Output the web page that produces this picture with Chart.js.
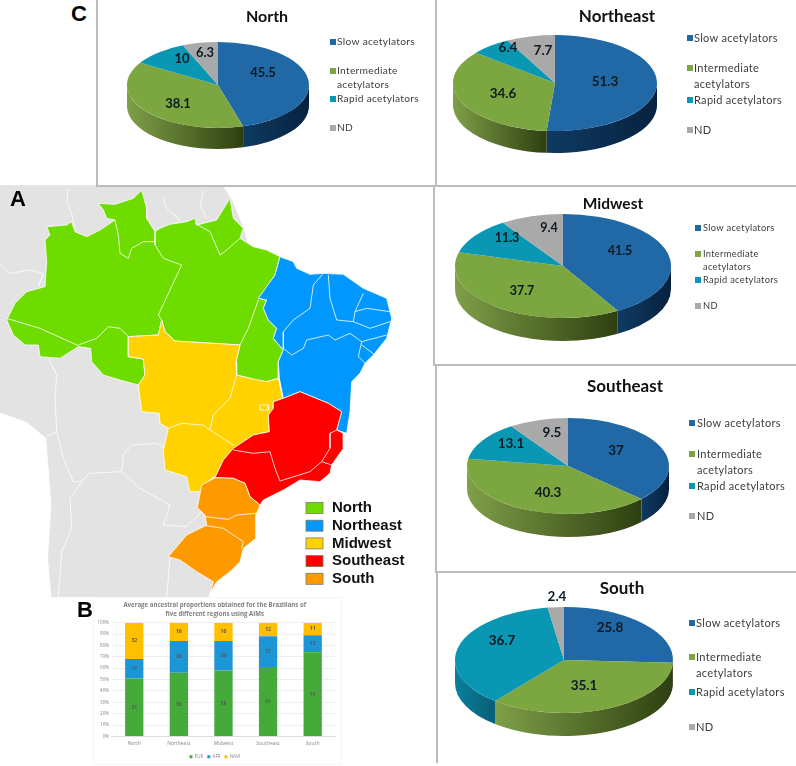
<!DOCTYPE html>
<html>
<head>
<meta charset="utf-8">
<title>Acetylator status by Brazilian region</title>
<script src="https://cdn.jsdelivr.net/npm/chart.js@4/dist/chart.umd.min.js"></script>
<style>
  html, body { margin: 0; padding: 0; background: #fff; }
  #page { position: relative; width: 796px; height: 766px; overflow: hidden; }
  canvas { position: absolute; }
  .pie { filter: blur(0.3px); }
  .rule { position: absolute; background: #bcbcbc; }
  .tag { position: absolute; font: bold 22px "Liberation Sans", Arial, sans-serif; color: #000; line-height: 1; }
  #barFrame { position: absolute; left: 93px; top: 597px; width: 247px; height: 166px; border: 1px solid #f6f6f6; }
</style>
</head>
<body>
<div id="page">
  <canvas id="map" width="430" height="415" style="left:0;top:185px"></canvas>
  <div id="barFrame"></div>
  <canvas id="bars" width="252" height="175" style="left:91px;top:596px;filter:blur(0.35px)"></canvas>
  <canvas class="pie" id="pieNorth" width="336" height="184" style="left:99px;top:0"></canvas>
  <canvas class="pie" id="pieNortheast" width="358" height="183" style="left:438px;top:0"></canvas>
  <canvas class="pie" id="pieMidwest" width="356" height="177" style="left:435px;top:186px"></canvas>
  <canvas class="pie" id="pieSoutheast" width="342" height="204" style="left:454px;top:367px"></canvas>
  <canvas class="pie" id="pieSouth" width="348" height="192" style="left:448px;top:574px"></canvas>

  <div class="rule" style="left:96px;top:0;width:2px;height:185px"></div>
  <div class="rule" style="left:96px;top:185px;width:700px;height:2px"></div>
  <div class="rule" style="left:435px;top:0;width:2px;height:185px"></div>
  <div class="rule" style="left:433px;top:185px;width:2px;height:180px"></div>
  <div class="rule" style="left:433px;top:364px;width:363px;height:2px"></div>
  <div class="rule" style="left:435px;top:366px;width:2px;height:206px"></div>
  <div class="rule" style="left:435px;top:571px;width:361px;height:2px"></div>
  <div class="rule" style="left:436px;top:573px;width:2px;height:190px"></div>

  <div class="tag" style="left:71px;top:3px">C</div>
  <div class="tag" style="left:10px;top:188px">A</div>
  <div class="tag" style="left:77px;top:599px">B</div>
</div>

<script>
// pie values
const pieCategories = ['Slow acetylators', 'Intermediate acetylators', 'Rapid acetylators', 'ND'];
const northValues = [45.5, 38.1, 10, 6.3];
const northeastValues = [51.3, 34.6, 6.4, 7.7];
const midwestValues = [41.5, 37.7, 11.3, 9.4];
const southeastValues = [37, 40.3, 13.1, 9.5];
const southValues = [25.8, 35.1, 36.7, 2.4];

// stacked bars
const barCategories = ['North', 'Northeast', 'Midwest', 'Southeast', 'South'];
const eurValues = [51, 56, 58, 61, 74];
const afrValues = [17, 28, 26, 27, 15];
const namValues = [32, 16, 16, 12, 11];

// map outlines (x, y pairs)
const mapLand = [0,0, 670,5, 695,45, 730,130, 800,400, 800,800, 640,1195, 625,1235, 155,1235, 145,1120, 155,960, 140,760, 80,710, 0,682];
const mapNorth = [295,55, 345,58, 400,40, 425,15, 440,70, 440,100, 465,140, 480,130, 510,118, 560,110, 585,100, 590,120, 650,105, 690,40, 700,100, 730,130, 720,160, 760,185, 800,195, 840,215, 825,270, 790,320, 775,340, 800,345, 790,370, 805,405, 830,430, 820,460, 850,495, 835,530, 835,580, 800,590, 760,585, 750,580, 710,570, 708,530, 720,480, 525,468, 495,440, 485,405, 475,450, 385,455, 385,515, 430,522, 435,570, 415,600, 360,585, 310,570, 275,530, 272,490, 235,485, 180,520, 120,515, 115,480, 75,480, 40,450, 20,405, 45,355, 80,320, 135,305, 140,230, 135,165, 150,150, 140,125, 200,120, 215,110, 225,140, 260,155, 300,135, 330,115, 345,105, 320,100, 310,75, 295,55];
const mapNortheast = [840,215, 880,230, 890,250, 930,268, 970,265, 1030,268, 1090,310, 1160,340, 1175,400, 1160,460, 1120,510, 1095,535, 1080,565, 1055,590, 1050,680, 1040,745, 1010,735, 1025,680, 985,655, 900,620, 850,640, 838,580, 835,530, 850,495, 820,460, 830,430, 805,405, 790,370, 800,345, 775,340, 825,270, 840,215];
const mapMidwest = [385,455, 475,450, 485,405, 495,440, 525,468, 720,480, 708,530, 710,570, 750,580, 800,590, 835,580, 848,640, 820,650, 820,670, 805,690, 808,740, 760,750, 700,790, 670,825, 650,870, 610,900, 600,920, 570,920, 560,875, 495,855, 490,795, 505,730, 480,715, 478,685, 425,680, 415,600, 435,570, 430,522, 385,515, 385,455];
const mapSoutheast = [850,640, 900,620, 985,655, 1025,680, 1010,735, 1030,745, 1030,790, 995,840, 990,865, 960,890, 900,885, 850,915, 790,945, 780,960, 750,935, 735,895, 700,880, 645,878, 670,825, 700,790, 760,750, 808,740, 805,690, 820,670, 820,650, 850,640];
const mapSouth = [645,878, 700,880, 735,895, 750,935, 780,960, 768,990, 768,1060, 730,1090, 720,1130, 690,1160, 650,1190, 630,1225, 640,1190, 590,1160, 540,1125, 505,1115, 560,1050, 620,1020, 615,990, 592,968, 605,900, 645,878];
const stateBorders = [
  [20,400, 120,430, 235,482],
  [235,480, 290,460, 325,425, 360,430, 385,455],
  [345,105, 355,150, 360,205, 385,220, 395,190, 430,170, 465,170],
  [465,140, 465,180, 490,220, 545,240, 475,390, 485,405],
  [585,115, 630,140, 660,210, 680,195, 720,160],
  [775,345, 745,430, 720,480],
  [710,570, 690,640, 640,690, 630,735, 610,720, 545,715, 505,730],
  [630,735, 700,780],
  [780,660, 805,660, 805,675, 780,675, 780,660],
  [970,265, 940,300, 930,370, 880,405, 850,440, 850,490],
  [985,270, 990,340, 1010,405],
  [1090,325, 1065,380, 1060,410],
  [1010,405, 1060,410, 1110,430, 1170,410],
  [1065,380, 1100,370, 1170,380],
  [850,490, 875,510, 910,490, 920,465, 985,450, 1005,465, 1050,445, 1085,470, 1160,450],
  [1085,470, 1075,515, 1095,535],
  [1085,480, 1125,510],
  [1010,735, 990,745, 990,790, 965,830, 930,860, 840,888, 825,850, 810,800, 760,805, 700,795],
  [965,830, 995,840],
  [615,995, 685,1003, 710,990, 768,985],
  [618,1022, 670,1030, 730,1070, 725,1090]
];
const countryBorders = [
  [205,10, 200,50, 215,85, 225,130],
  [490,40, 500,70, 530,95, 540,110],
  [610,20, 600,60, 620,100],
  [0,235, 30,265, 90,255, 130,265, 115,305],
  [145,520, 170,570, 165,640, 170,740, 140,755],
  [170,740, 190,820, 220,890, 245,890, 265,865, 365,860, 370,810, 395,780, 470,775, 495,790],
  [365,860, 420,910, 510,960, 490,1020, 560,1025, 610,975],
  [245,890, 210,940, 215,1030, 185,1100, 180,1170, 175,1235],
  [510,1115, 500,1235]
];
const mapLegendLabels = ['North', 'Northeast', 'Midwest', 'Southeast', 'South'];
const mapColors = ['#6fdc00', '#0098ff', '#ffd200', '#ff0000', '#ff9900'];

const pieColors = ['#2169a6', '#7ca640', '#0a97b3', '#a9a9a9'];
// left and right colour of each slice's side wall
const sideColors = [['#0f3a62', '#06223f'], ['#7f9f48', '#2e3f10'], ['#0a7f9c', '#075f78'], ['#777777', '#666666']];

// geometry of each pie in page pixels
const pieLayouts = {
  north: { left: 99, top: 0, cx: 218, cy: 85, a: 91, b: 43, depth: 21, titleY: 17, titleSize: 16, font: 10.2,
    swatchX: 330, textX: 337, legendY: [42, 71, 85, 99, 128],
    labelX: [263, 178, 182, 205], labelY: [73, 104, 59, 53], labelSize: 13 },
  northeast: { left: 438, top: 0, cx: 555, cy: 83, a: 102, b: 48, depth: 22, titleY: 17, titleSize: 17, font: 11,
    swatchX: 687, textX: 694, legendY: [38, 68, 84, 100, 130],
    labelX: [605, 503, 508, 543], labelY: [82, 94, 48, 51], labelSize: 13.5 },
  midwest: { left: 435, top: 186, cx: 563, cy: 266, a: 108, b: 52, depth: 23, titleY: 204, titleSize: 15.5, font: 9.3,
    swatchX: 695, textX: 703, legendY: [228, 254, 267, 280, 306],
    labelX: [620, 522, 507, 549], labelY: [251, 291, 238, 228], labelSize: 12.5 },
  southeast: { left: 454, top: 367, cx: 568, cy: 466, a: 101, b: 48, depth: 23, titleY: 387, titleSize: 17, font: 11,
    swatchX: 689, textX: 697, legendY: [423, 454, 470, 486, 516],
    labelX: [616, 548, 511, 552], labelY: [451, 493, 444, 433], labelSize: 13.5 },
  south: { left: 448, top: 574, cx: 564, cy: 660, a: 109, b: 53, depth: 23, titleY: 589, titleSize: 17, font: 11.1,
    swatchX: 689, textX: 696, legendY: [623, 657, 673, 692, 727],
    labelX: [610, 584, 502, 557], labelY: [628, 686, 641, 597], labelSize: 13.5 }
};

// squashes the library's flat pie into a disc and adds the side wall under it
const discPlugin = {
  id: 'disc',
  beforeDatasetsDraw(chart, args, opts) {
    const lay = opts.layout;
    const ctx = chart.ctx;
    const arcs = chart.getDatasetMeta(0).data;
    const cx = lay.cx - lay.left, cy = lay.cy - lay.top;
    arcs.forEach((arc, i) => {
      const s = Math.max(arc.startAngle, 0), e = Math.min(arc.endAngle, Math.PI);
      if (e <= s) return;
      const x1 = cx + lay.a * Math.cos(e), x2 = cx + lay.a * Math.cos(s);
      const grad = ctx.createLinearGradient(Math.min(x1, x2), 0, Math.max(x1, x2), 0);
      grad.addColorStop(0, sideColors[i][0]);
      grad.addColorStop(1, sideColors[i][1]);
      ctx.beginPath();
      ctx.ellipse(cx, cy, lay.a, lay.b, 0, s, e);
      ctx.ellipse(cx, cy + lay.depth, lay.a, lay.b, 0, e, s, true);
      ctx.closePath();
      ctx.fillStyle = grad;
      ctx.fill();
    });
    ctx.save();
    ctx.translate(cx, cy);
    ctx.scale(1, lay.b / lay.a);
    ctx.translate(-arcs[0].x, -arcs[0].y);
  },
  afterDatasetsDraw(chart, args, opts) {
    const lay = opts.layout;
    const ctx = chart.ctx;
    ctx.restore();
    ctx.textBaseline = 'middle';
    // slice values
    ctx.textAlign = 'center';
    ctx.fillStyle = '#0d1a22';
    ctx.font = 'bold ' + lay.labelSize + 'px Lato, sans-serif';
    chart.data.datasets[0].data.forEach((v, i) => {
      ctx.fillText(String(v), lay.labelX[i] - lay.left, lay.labelY[i] - lay.top);
    });
    // legend, the long label takes two lines
    ctx.textAlign = 'left';
    ctx.font = lay.font + 'px Lato, sans-serif';
    ctx.letterSpacing = '0.3px';
    const lines = [pieCategories[0], 'Intermediate', 'acetylators', pieCategories[2], pieCategories[3]];
    const swatch = [0, 1, null, 2, 3];
    lines.forEach((text, i) => {
      const y = lay.legendY[i] - lay.top;
      ctx.fillStyle = '#3d3d3d';
      ctx.fillText(text, lay.textX - lay.left, y);
      if (swatch[i] !== null) {
        ctx.fillStyle = pieColors[swatch[i]];
        ctx.fillRect(lay.swatchX - lay.left, y - 3, 6, 6);
      }
    });
    ctx.letterSpacing = '0px';
  }
};

function makePie(id, title, values, lay) {
  return new Chart(document.getElementById(id), {
    type: 'pie',
    data: {
      labels: pieCategories,
      datasets: [{ data: values, backgroundColor: pieColors, borderWidth: 0, radius: lay.a, clip: false }]
    },
    options: {
      responsive: false,
      animation: false,
      plugins: {
        legend: { display: false },
        tooltip: { enabled: false },
        title: {
          display: true,
          text: title,
          color: '#111',
          font: { family: 'Lato, sans-serif', size: lay.titleSize, weight: 'bold' },
          padding: { top: lay.titleY - lay.top - lay.titleSize * 0.6, bottom: 0 }
        },
        disc: { layout: lay }
      }
    },
    plugins: [discPlugin]
  });
}

makePie('pieNorth', 'North', northValues, pieLayouts.north);
makePie('pieNortheast', 'Northeast', northeastValues, pieLayouts.northeast);
makePie('pieMidwest', 'Midwest', midwestValues, pieLayouts.midwest);
makePie('pieSoutheast', 'Southeast', southeastValues, pieLayouts.southeast);
makePie('pieSouth', 'South', southValues, pieLayouts.south);

// map
const toPoints = (flat) => {
  const pts = [];
  for (let i = 0; i < flat.length; i += 2) pts.push({ x: flat[i], y: flat[i + 1] });
  return pts;
};
const areaSet = (flat, color, edge) => ({
  data: toPoints(flat), showLine: true, fill: 'shape', backgroundColor: color,
  borderColor: edge, borderWidth: 0.8, pointRadius: 0, tension: 0
});
const lineSet = (flat) => ({
  data: toPoints(flat), showLine: true, fill: false, borderColor: '#ffffff',
  borderWidth: 0.8, pointRadius: 0, tension: 0
});

const mapLegendPlugin = {
  id: 'mapLegend',
  afterDraw(chart) {
    const ctx = chart.ctx;
    ctx.font = 'bold 15px "Liberation Sans", Arial, sans-serif';
    ctx.textBaseline = 'middle';
    ctx.textAlign = 'left';
    mapLegendLabels.forEach((label, i) => {
      const y = 323 + i * 17.7;
      ctx.fillStyle = mapColors[i];
      ctx.fillRect(306, y - 5.5, 17, 11);
      ctx.strokeStyle = '#7a7a5a';
      ctx.lineWidth = 0.8;
      ctx.strokeRect(306, y - 5.5, 17, 11);
      ctx.fillStyle = '#111';
      ctx.fillText(label, 332, y);
    });
  }
};

// first dataset ends up on top
new Chart(document.getElementById('map'), {
  type: 'scatter',
  data: {
    datasets: [
      ...stateBorders.map(lineSet),
      areaSet(mapSouth, mapColors[4], '#ffffff'),
      areaSet(mapSoutheast, mapColors[3], '#ffffff'),
      areaSet(mapMidwest, mapColors[2], '#ffffff'),
      areaSet(mapNortheast, mapColors[1], '#ffffff'),
      areaSet(mapNorth, mapColors[0], '#ffffff'),
      ...countryBorders.map(lineSet),
      areaSet(mapLand, '#e3e3e3', '#e3e3e3')
    ]
  },
  options: {
    responsive: false,
    animation: false,
    layout: { padding: 0 },
    scales: {
      x: { type: 'linear', min: 0, max: 1290, display: false },
      y: { type: 'linear', min: 0, max: 1245, reverse: true, display: false }
    },
    plugins: { legend: { display: false }, tooltip: { enabled: false } }
  },
  plugins: [mapLegendPlugin]
});

// stacked bars, values printed in the middle of each segment
const barLabelPlugin = {
  id: 'barLabels',
  afterDatasetsDraw(chart) {
    const ctx = chart.ctx;
    ctx.font = 'bold 5px "Open Sans", sans-serif';
    ctx.fillStyle = '#5a5a5a';
    ctx.textAlign = 'center';
    ctx.textBaseline = 'middle';
    chart.data.datasets.forEach((ds, d) => {
      chart.getDatasetMeta(d).data.forEach((bar, i) => {
        ctx.fillText(String(ds.data[i]), bar.x, (bar.y + bar.base) / 2);
      });
    });
  }
};

new Chart(document.getElementById('bars'), {
  type: 'bar',
  data: {
    labels: barCategories,
    datasets: [
      { label: 'EUR', data: eurValues, backgroundColor: '#44ab3a' },
      { label: 'AFR', data: afrValues, backgroundColor: '#1d96d6' },
      { label: 'NAM', data: namValues, backgroundColor: '#ffc000' }
    ]
  },
  options: {
    responsive: false,
    animation: false,
    layout: { padding: { left: 3.5, right: 8, top: 2, bottom: 2 } },
    datasets: { bar: { barPercentage: 0.41, categoryPercentage: 1 } },
    scales: {
      x: {
        stacked: true,
        grid: { display: false, tickLength: 0 },
        border: { color: '#dddddd' },
        ticks: { color: '#888888', font: { size: 5, family: '"Open Sans", sans-serif' }, padding: 4 }
      },
      y: {
        stacked: true,
        min: 0,
        max: 100,
        grid: { color: '#eeeeee', tickLength: 0 },
        border: { display: false },
        ticks: {
          stepSize: 10,
          color: '#888888',
          padding: 3,
          font: { size: 4.5, family: '"Open Sans", sans-serif' },
          callback: (v) => v + '%'
        }
      }
    },
    plugins: {
      tooltip: { enabled: false },
      title: {
        display: true,
        text: ['Average ancestral proportions obtained for the Brazilians of', 'five different regions using AIMs'],
        color: '#808080',
        font: { size: 6.1, weight: 'bold', lineHeight: 1.45, family: '"Open Sans", sans-serif' },
        padding: { top: 3, bottom: 4 }
      },
      legend: {
        position: 'bottom',
        labels: {
          color: '#888888',
          font: { size: 4.5, family: '"Open Sans", sans-serif' },
          boxWidth: 3,
          boxHeight: 3,
          padding: 4
        }
      }
    }
  },
  plugins: [barLabelPlugin]
});
</script>
</body>
</html>
